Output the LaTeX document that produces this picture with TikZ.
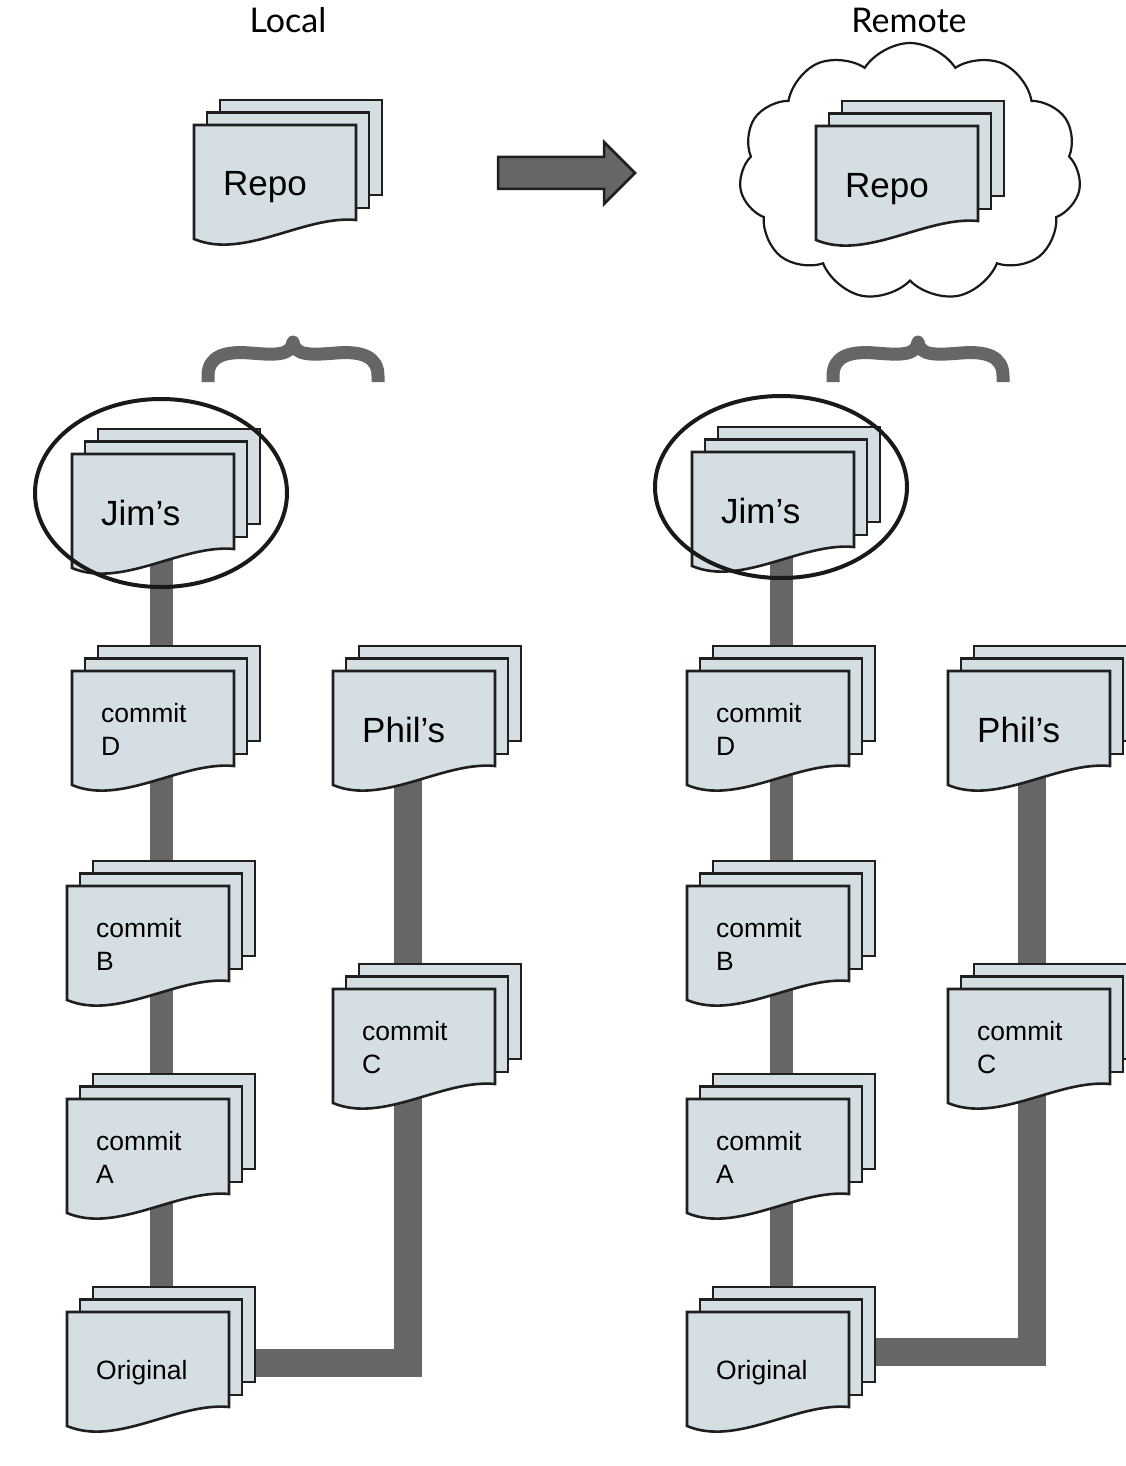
\documentclass[tikz,border=0pt]{standalone}
\usepackage{fontspec}
\setmainfont{Liberation Sans}
\newfontfamily\latofont{Lato}
\usetikzlibrary{shapes.geometric,shapes.symbols}
\definecolor{sheetfill}{HTML}{D5DEE3}
\definecolor{linkgray}{HTML}{666666}
\pgfdeclarelayer{bg}
\pgfsetlayers{bg,main}
\newcommand\stackshapes{%
  \path[sheet] (26,-25) rectangle (188,70);
  \path[sheet] (13,-12.5) rectangle (175,83);
  \path[sheet] (0,0) -- (162,0) -- (162,95) .. controls (110,90) and (50,135) .. (0,114) -- cycle;
  \node[inner sep=0pt, minimum width=188pt, minimum height=139pt, anchor=north west] (-box) at (0,-25) {};
}
\tikzset{
  sheet/.style={draw=black!88, line width=2.6pt, fill=sheetfill, line join=miter},
  bigtext/.style={font=\fontsize{35}{42}\selectfont},
  smalltext/.style={font=\fontsize{26.5}{33}\selectfont},
  title/.style={font=\latofont\fontsize{34}{40}\selectfont, anchor=base, inner sep=0pt},
  trunk/.style={draw=linkgray, line width=23pt},
  branch/.style={draw=linkgray, line width=28pt, line join=miter},
  bracket/.style={draw=linkgray, line width=13pt, line join=round},
  oval/.style={draw=black!90, ellipse, line width=4pt, minimum width=252pt, inner sep=0pt},
  pics/bigstack/.style={code={%
    \stackshapes
    \node[bigtext, anchor=base west, inner sep=0pt] (-lbl) at (29,71) {#1};
  }},
  pics/commitstack/.style={code={%
    \stackshapes
    \node[smalltext, anchor=base west, inner sep=0pt] (-lbl) at (29,51) {commit};
    \node[smalltext, anchor=base west, inner sep=0pt] (-let) at (29,84) {#1};
  }},
  pics/origstack/.style={code={%
    \stackshapes
    \node[smalltext, anchor=base west, inner sep=0pt] (-lbl) at (29,67) {Original};
  }},
}
\begin{document}
\begin{tikzpicture}[x=1pt,y=-1pt]
\useasboundingbox (0,0) rectangle (1126,1466);
\clip (0,0) rectangle (1126,1466);

% titles
\node[title] (lblL) at (288,33) {Local};
\node[title] (lblR) at (909,33) {Remote};

% arrow
\draw[fill=linkgray, draw=black!88, line width=2.5pt, line join=miter]
  (498,157) -- (604,157) -- (604,142) -- (635,173) -- (604,204) -- (604,189) -- (498,189) -- cycle;

% cloud
\node[cloud, cloud puffs=11, cloud puff arc=115, draw=black!90, fill=white, line width=2.2pt,
      minimum width=342pt, minimum height=258pt, inner sep=0pt] (cloudR) at (910,172) {};

% repos
\pic (repoL) at (194,125) {bigstack={Repo}};
\pic (repoR) at (816,126) {bigstack={Repo}};

% brackets
\draw[bracket] (208,382) -- (208,376) .. controls (208,356) and (225,351) .. (250,353)
  .. controls (275,355) and (291,356) .. (293,342)
  .. controls (295,356) and (311,355) .. (336,353)
  .. controls (361,351) and (378,356) .. (378,376) -- (378,382);
\draw[bracket] (833,382) -- (833,376) .. controls (833,356) and (850,351) .. (875,353)
  .. controls (900,355) and (916,356) .. (918,342)
  .. controls (920,356) and (936,355) .. (961,353)
  .. controls (986,351) and (1003,356) .. (1003,376) -- (1003,382);

% local stacks
\pic (jimL) at (72,454) {bigstack={Jim’s}};
\pic (cdL) at (72,671) {commitstack={D}};
\pic (cbL) at (67,886) {commitstack={B}};
\pic (caL) at (67,1099) {commitstack={A}};
\pic (origL) at (67,1312) {origstack};
\pic (philL) at (333,671) {bigstack={Phil’s}};
\pic (ccL) at (333,989) {commitstack={C}};

% remote stacks
\pic (jimR) at (692,452) {bigstack={Jim’s}};
\pic (cdR) at (687,671) {commitstack={D}};
\pic (cbR) at (687,886) {commitstack={B}};
\pic (caR) at (687,1099) {commitstack={A}};
\pic (origR) at (687,1312) {origstack};
\pic (philR) at (948,671) {bigstack={Phil’s}};
\pic (ccR) at (948,989) {commitstack={C}};

% highlight ovals
\node[oval, minimum height=188pt] (ovalL) at (161,493) {};
\node[oval, minimum height=182pt] (ovalR) at (781,487) {};

% connectors
\coordinate (trunkL) at (161,0);
\coordinate (trunkR) at (781,0);
\coordinate (brL) at (408,1363);
\coordinate (brR) at (1032,1352);
\begin{pgfonlayer}{bg}
\draw[trunk] (jimL-box.center -| trunkL) -- (cdL-box.center -| trunkL);
\draw[trunk] (cdL-box.center -| trunkL) -- (cbL-box.center -| trunkL);
\draw[trunk] (cbL-box.center -| trunkL) -- (caL-box.center -| trunkL);
\draw[trunk] (caL-box.center -| trunkL) -- (origL-box.center -| trunkL);
\draw[branch] (origL-box.center |- brL) -- (brL) -- (ccL-box.center -| brL);
\draw[branch] (ccL-box.center -| brL) -- (philL-box.center -| brL);

\draw[trunk] (jimR-box.center -| trunkR) -- (cdR-box.center -| trunkR);
\draw[trunk] (cdR-box.center -| trunkR) -- (cbR-box.center -| trunkR);
\draw[trunk] (cbR-box.center -| trunkR) -- (caR-box.center -| trunkR);
\draw[trunk] (caR-box.center -| trunkR) -- (origR-box.center -| trunkR);
\draw[branch] (origR-box.center |- brR) -- (brR) -- (ccR-box.center -| brR);
\draw[branch] (ccR-box.center -| brR) -- (philR-box.center -| brR);
\end{pgfonlayer}
\end{tikzpicture}
\end{document}
